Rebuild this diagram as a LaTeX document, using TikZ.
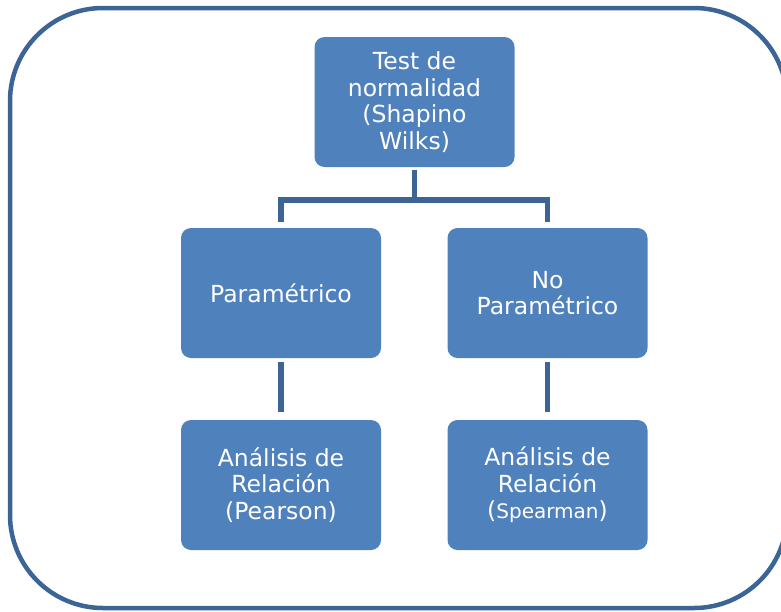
\documentclass[tikz,border=0pt]{standalone}
\usepackage{fontspec}
\setmainfont{DejaVu Sans}
\definecolor{boxblue}{HTML}{4F81BD}
\definecolor{linkblue}{HTML}{3C6494}
\definecolor{framecol}{HTML}{3B6497}
\tikzset{
  bx/.style={fill=boxblue, draw=none, rounded corners=10pt, minimum width=200pt, minimum height=130pt,
    text=white, align=center, inner sep=0pt, font=\fontsize{23.5pt}{26.5pt}\selectfont},
  conn/.style={draw=linkblue, line width=5.5pt},
}
\begin{document}
\begin{tikzpicture}[x=1pt,y=-1pt]
\useasboundingbox (0,0) rectangle (781,611);
\draw[framecol, line width=4.5pt, rounded corners=93pt] (10,8) rectangle (787,608);
\node[bx] (top) at (414.5,102) {Test de\\normalidad\\(Shapino\\Wilks)};
\node[bx] (par) at (281,293) {Paramétrico};
\node[bx] (nopar) at (547.5,293) {No\\Paramétrico};
\node[bx] (pear) at (281,485) {Análisis de\\Relación\\(Pearson)};
\node[bx] (spear) at (547.5,485) {Análisis de\\Relación\\({\fontsize{20pt}{20pt}\selectfont Spearman})};
\coordinate (bar) at (0,200);
\draw[conn] ([yshift=-3pt]top.south) -- (top.south |- bar);
\draw[conn] ([yshift=6pt]par.north) |- (bar -| nopar.north) -- ([yshift=6pt]nopar.north);
\draw[conn] ([yshift=-4pt]par.south) -- ([yshift=8pt]pear.north);
\draw[conn] ([yshift=-4pt]nopar.south) -- ([yshift=8pt]spear.north);
\end{tikzpicture}
\end{document}
